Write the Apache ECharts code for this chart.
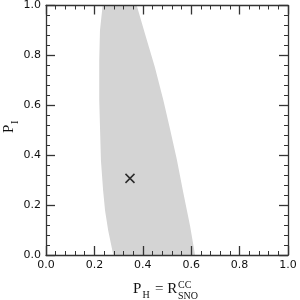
<!DOCTYPE html>
<html>
<head>
<meta charset="utf-8">
<script src="https://cdn.jsdelivr.net/npm/echarts@6/dist/echarts.min.js"></script>
<style>
html,body{margin:0;padding:0;background:#fff;}
#c{width:300px;height:300px;}
</style>
</head>
<body>
<div id="c"></div>
<script>
// Allowed region boundary (left edge top->bottom, right edge top->bottom)
var leftX  = [0.234, 0.223, 0.220, 0.220, 0.227, 0.236, 0.244, 0.257, 0.278];
var leftY  = [1.000, 0.900, 0.780, 0.620, 0.379, 0.259, 0.178, 0.098, 0.000];
var rightX = [0.375, 0.409, 0.450, 0.485, 0.512, 0.540, 0.567, 0.595, 0.616];
var rightY = [1.000, 0.887, 0.753, 0.620, 0.507, 0.386, 0.252, 0.118, 0.000];
// Best-fit point
var bestX = [0.347];
var bestY = [0.307];

var poly = [];
for (var i = 0; i < leftX.length; i++) poly.push([leftX[i], leftY[i]]);
for (var j = rightX.length - 1; j >= 0; j--) poly.push([rightX[j], rightY[j]]);
var best = bestX.map(function (x, k) { return [x, bestY[k]]; });

var axisCol = '#333';
function mkAxis(pos, showLabel) {
  return {
    type: 'value', min: 0, max: 1, interval: 0.2, position: pos, z: 10,
    axisLine: { show: true, onZero: false, lineStyle: { color: axisCol, width: 1.3 } },
    axisTick: { show: true, inside: true, length: 9, lineStyle: { color: axisCol, width: 1.3 } },
    minorTick: { show: true, splitNumber: 5, length: 4, lineStyle: { color: axisCol, width: 1 } },
    splitLine: { show: false },
    axisLabel: {
      show: showLabel, margin: 5, color: '#111', fontSize: 11, fontFamily: 'DejaVu Sans',
      formatter: function (v) { return v.toFixed(1); }
    }
  };
}

var chart = echarts.init(document.getElementById('c'), null, { renderer: 'canvas' });
chart.setOption({
  animation: false,
  grid: { left: 46, right: 12, top: 5, bottom: 45 },
  xAxis: [mkAxis('bottom', true), mkAxis('top', false)],
  yAxis: [mkAxis('left', true), mkAxis('right', false)],
  series: [
    {
      type: 'custom', xAxisIndex: 0, yAxisIndex: 0, clip: true, z: 1,
      data: poly,
      renderItem: function (params, api) {
        if (params.dataIndex !== 0) return null;
        var pts = poly.map(function (p) { return api.coord(p); });
        return { type: 'polygon', shape: { points: pts }, style: { fill: '#d4d4d4', stroke: null } };
      }
    },
    {
      type: 'scatter', xAxisIndex: 0, yAxisIndex: 0, z: 5,
      data: best,
      symbol: 'path://M0,0L10,10M10,0L0,10',
      symbolSize: 9,
      itemStyle: { color: 'none', borderColor: '#000', borderWidth: 1.5 }
    }
  ],
  graphic: [
    {
      type: 'group', x: 0, y: 0, silent: true,
      children: [
        { type: 'text', x: 133, y: 297, style: { text: 'P', font: '15px "Liberation Serif"', fill: '#111', verticalAlign: 'bottom' } },
        { type: 'text', x: 142.5, y: 300, style: { text: 'H', font: '10px "Liberation Serif"', fill: '#111', verticalAlign: 'bottom' } },
        { type: 'text', x: 155, y: 297, style: { text: '= R', font: '15px "Liberation Serif"', fill: '#111', verticalAlign: 'bottom' } },
        { type: 'text', x: 178, y: 290, style: { text: 'CC', font: '10px "Liberation Serif"', fill: '#111', verticalAlign: 'bottom' } },
        { type: 'text', x: 178, y: 301, style: { text: 'SNO', font: '10px "Liberation Serif"', fill: '#111', verticalAlign: 'bottom' } }
      ]
    },
    {
      type: 'group', x: 17, y: 133, rotation: Math.PI / 2, silent: true,
      children: [
        { type: 'text', x: 0, y: 0, style: { text: 'P', font: '15px "Liberation Serif"', fill: '#111', verticalAlign: 'bottom' } },
        { type: 'text', x: 9, y: 3, style: { text: 'I', font: '10px "Liberation Serif"', fill: '#111', verticalAlign: 'bottom' } }
      ]
    }
  ]
});
</script>
</body>
</html>
